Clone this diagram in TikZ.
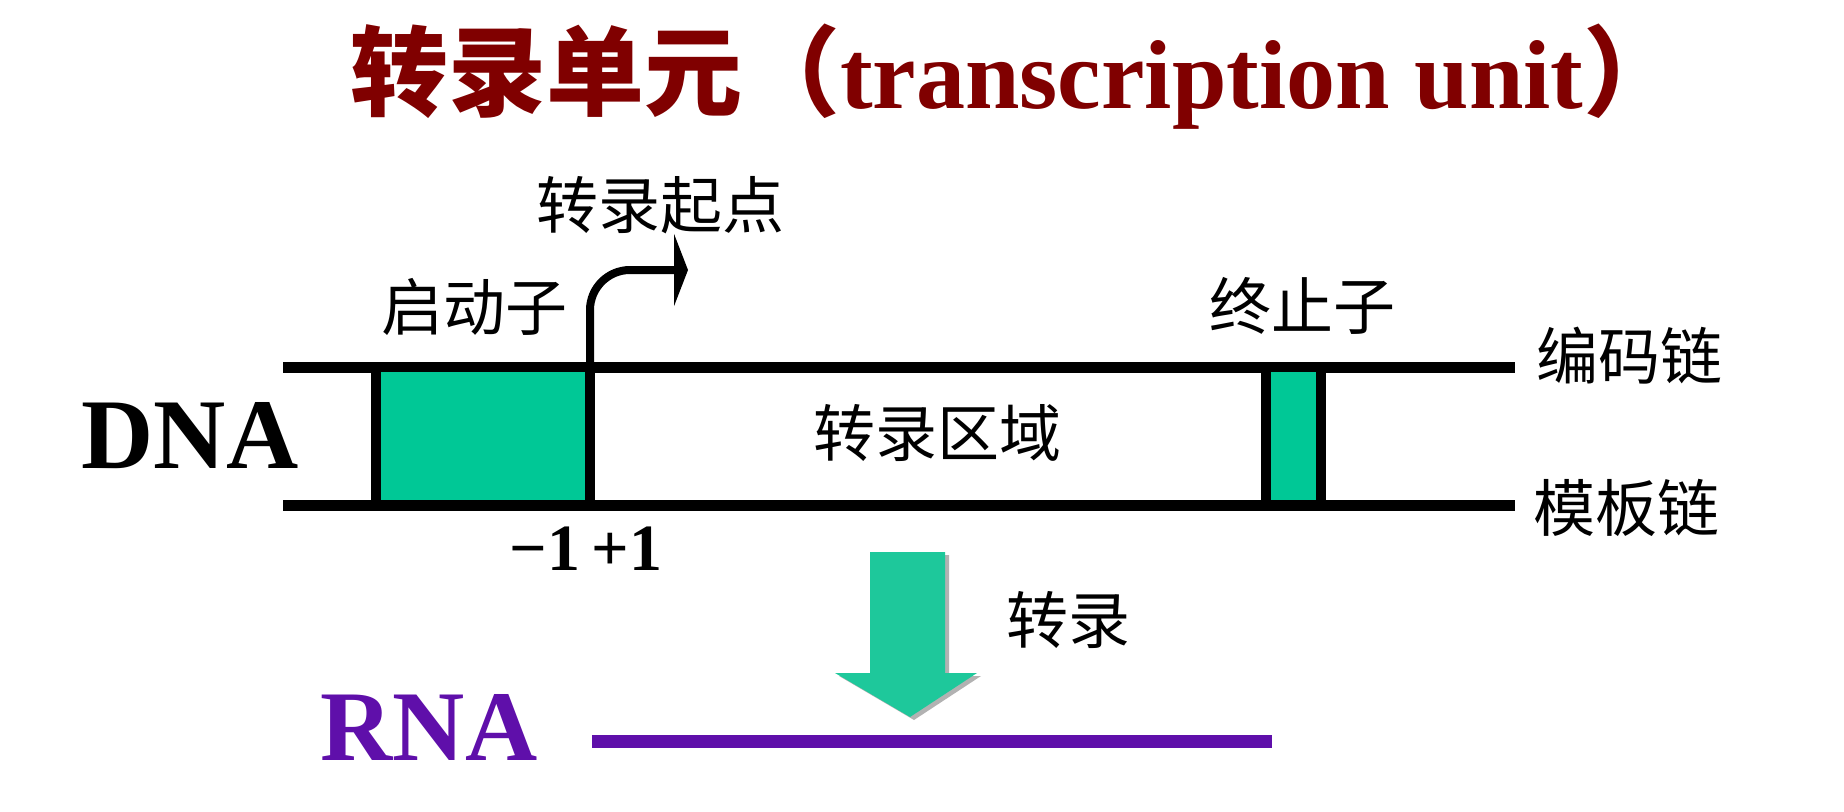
\documentclass[tikz,border=0pt]{standalone}
\usepackage{fontspec}
\setmainfont{Liberation Serif}
\newfontfamily\cjk{Noto Sans CJK SC}
\usepackage{xcolor}
\usepackage{tikz}
\usetikzlibrary{arrows.meta}
\usetikzlibrary{positioning}

\definecolor{titlered}{RGB}{128,0,0}
\definecolor{boxgreen}{RGB}{0,200,150}
\definecolor{arrowgreen}{RGB}{30,200,155}
\definecolor{rnapurple}{RGB}{95,15,170}

\begin{document}
\begin{tikzpicture}[x=1pt, y=-1pt,
  strand/.style={line width=11pt},
  seg/.style={draw, line width=10pt, fill=boxgreen, minimum height=138pt, inner sep=0pt, outer sep=0pt},
  cjklabel/.style={font=\cjk\fontsize{62}{62}\selectfont, inner sep=0pt},
  latin/.style={font=\bfseries\fontsize{100}{100}\selectfont, inner sep=0pt}]

\useasboundingbox (0,0) rectangle (1844,811);

\node[anchor=base west, inner sep=0pt, text=titlered, font=\bfseries\fontsize{98}{98}\selectfont] (title) at (350,108)
  {{\cjk 转录单元（}transcription unit{\cjk ）}};

\coordinate (top left) at (283,367);
\coordinate (top right) at (1515,367);
\coordinate (bottom left) at (283,505);
\coordinate (bottom right) at (1515,505);
\path[draw] [strand] (top left) -- (top right);
\path[draw] [strand] (bottom left) -- (bottom right);

\node[seg, minimum width=214pt] (promoter) at (483,436) {};
\node[seg, minimum width=55pt] (terminator) at (1293,436) {};

\node[latin] (dna) at (190,436) {DNA};
\node[cjklabel] (region) at (937,433) {转录区域};
\node[cjklabel] (promlabel) at (474,307) {启动子};
\node[cjklabel] (termlabel) at (1302,306) {终止子};
\node[cjklabel] (tsslabel) at (660,205) {转录起点};
\node[cjklabel] (coding) at (1629,356) {编码链};
\node[cjklabel] (template) at (1626,508) {模板链};
\node[inner sep=0pt, font=\bfseries\fontsize{66}{66}\selectfont] (pos) at (586,549) {−1\,+1};

\coordinate (tss) at (688,270);
\path[draw] [line width=8pt, rounded corners=40pt, -{Triangle[length=14pt, width=72pt]}] (promoter.north east) |- (tss);

\fill[gray!60] (874,555) -- (949,555) -- (949,676) -- (981,676) -- (914,720) -- (839,676) -- (874,676) -- cycle;
\fill[arrowgreen] (870,552) -- (945,552) -- (945,673) -- (977,673) -- (910,717) -- (835,673) -- (870,673) -- cycle;
\node[cjklabel] (step) at (1068,620) {转录};

\node[latin, text=rnapurple] (rna) at (429,727) {RNA};
\coordinate (rna start) at (592,741);
\coordinate (rna end) at (1272,741);
\path[draw] [line width=13pt, rnapurple] (rna start) -- (rna end);

\end{tikzpicture}
\end{document}
